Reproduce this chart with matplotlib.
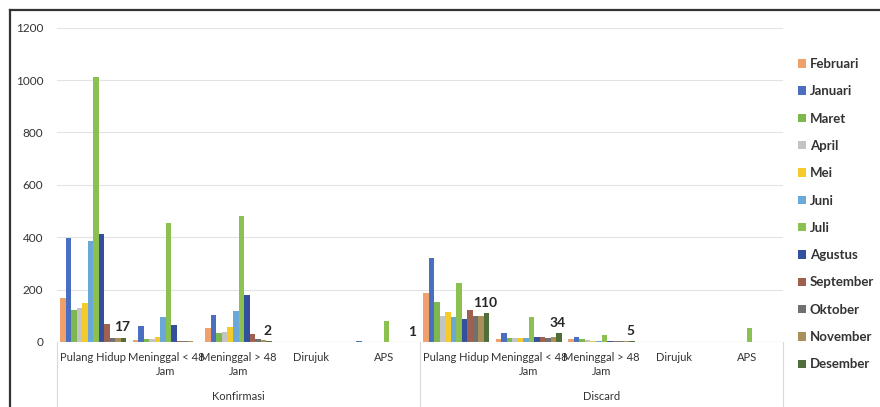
import numpy as np
import matplotlib.pyplot as plt
from matplotlib.lines import Line2D

plt.rcParams['font.family'] = ['Lato', 'DejaVu Sans']

categories = ['Pulang Hidup', 'Meninggal < 48\nJam', 'Meninggal > 48\nJam', 'Dirujuk', 'APS']
groups = ['Konfirmasi', 'Discard']
months = ['Februari', 'Januari', 'Maret', 'April', 'Mei', 'Juni', 'Juli',
          'Agustus', 'September', 'Oktober', 'November', 'Desember']
colors = ['#F0A06A', '#4A6EC0', '#7DB84F', '#C4C4C4', '#F5CB2C', '#6AA8D8',
          '#8CC152', '#34509C', '#A0604F', '#707070', '#A89058', '#506E3A']

# values per month: Konfirmasi (5 categories) then Discard (5 categories)
februari = [167, 8, 52, 0, 0, 186, 12, 10, 0, 0]
januari = [398, 61, 103, 0, 3, 322, 33, 20, 0, 0]
maret = [122, 10, 33, 0, 0, 154, 15, 10, 0, 0]
april = [130, 10, 40, 0, 0, 100, 15, 8, 0, 0]
mei = [149, 20, 58, 0, 0, 116, 15, 3, 0, 0]
juni = [387, 94, 120, 0, 0, 94, 15, 3, 0, 0]
juli = [1013, 456, 481, 0, 80, 224, 94, 28, 0, 55]
agustus = [412, 65, 180, 0, 0, 87, 18, 5, 0, 0]
september = [68, 5, 29, 0, 0, 124, 18, 5, 0, 0]
oktober = [17, 3, 10, 0, 0, 100, 15, 3, 0, 0]
november = [15, 2, 8, 0, 0, 100, 20, 2, 0, 0]
desember = [17, 0, 2, 0, 1, 110, 34, 5, 0, 0]
series = [februari, januari, maret, april, mei, juni, juli,
          agustus, september, oktober, november, desember]
# data labels shown on the Desember series
label_idx = [0, 2, 4, 5, 6, 7]

fig = plt.figure(figsize=(8.8, 4.07), dpi=100)
ax = fig.add_axes([57 / 880, 65 / 407, 726 / 880, 314.3 / 407])

x = np.arange(len(categories) * len(groups))
n = len(series)
w = 0.91 / n
bars = []
for i, vals in enumerate(series):
    b = ax.bar(x - 0.455 + w * (i + 0.5), vals, w, color=colors[i], label=months[i])
    bars.append(b)

for j in label_idx:
    ax.annotate(str(desember[j]), (x[j] - 0.455 + w * (n - 0.5), desember[j]),
                xytext=(-1, 3), textcoords='offset points', ha='center', va='bottom',
                fontsize=10, fontweight='bold', color='#262626')

ax.set_xlim(-0.5, 9.5)
ax.set_ylim(0, 1200)
ax.set_yticks(range(0, 1201, 200))
ax.tick_params(axis='y', length=0, pad=10, labelsize=8.5, labelcolor='#333333')
ax.set_xticks([])
ax.grid(axis='y', color='#E3E3E3', linewidth=0.8)
ax.set_axisbelow(True)
for s in ax.spines.values():
    s.set_visible(False)
ax.axhline(0, color='#D0D0D0', linewidth=0.8)

tr = ax.get_xaxis_transform()
for k, g in enumerate(groups):
    for c, cat in enumerate(categories):
        ax.text(k * 5 + c, -0.032, cat, transform=tr, ha='center', va='top',
                fontsize=8, color='#333333', linespacing=1.3)
    ax.text(k * 5 + 2, -0.172, g, transform=tr, ha='center', va='center',
            fontsize=8, color='#333333')
for sx in [-0.5, 4.5, 9.5]:
    ax.add_line(Line2D([sx, sx], [0, -0.21], transform=tr, color='#D9D9D9',
                       linewidth=0.8, clip_on=False))

fig.legend(handles=bars, labels=months, loc='upper left',
           bbox_to_anchor=(798 / 880, 1 - 58 / 407), frameon=False,
           fontsize=9.5, handlelength=0.6, handleheight=0.6, handletextpad=0.3,
           labelspacing=1.16, borderaxespad=0, borderpad=0)
for t in fig.legends[0].get_texts():
    t.set_fontweight('bold')
    t.set_color('#333333')

# chart border
fig.add_artist(Line2D([10 / 880, 1.0], [1 - 10 / 407, 1 - 10 / 407],
                      color='#333333', linewidth=1.6))
fig.add_artist(Line2D([10 / 880, 10 / 880], [0, 1 - 10 / 407],
                      color='#333333', linewidth=1.6))

fig.savefig('out.png', dpi=100)
